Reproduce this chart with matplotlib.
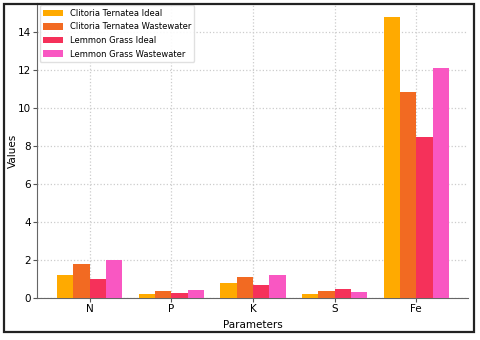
import numpy as np
import matplotlib.pyplot as plt
from matplotlib.patches import Rectangle

params = ["N", "P", "K", "S", "Fe"]
ct_ideal = [1.18, 0.18, 0.77, 0.21, 14.78]
ct_waste = [1.78, 0.34, 1.09, 0.34, 10.83]
lg_ideal = [0.98, 0.23, 0.70, 0.44, 8.46]
lg_waste = [1.98, 0.39, 1.21, 0.30, 12.10]
series_names = ["Clitoria Ternatea Ideal", "Clitoria Ternatea Wastewater",
                "Lemmon Grass Ideal", "Lemmon Grass Wastewater"]
colors = ["#FFAA00", "#F26A22", "#F5315A", "#F957C2"]

fig = plt.figure(figsize=(4.8, 3.4), dpi=100)
ax = fig.add_axes([0.078, 0.124, 0.898, 0.866])

x = np.arange(len(params))
w = 0.2
for i, (vals, name, c) in enumerate(zip([ct_ideal, ct_waste, lg_ideal, lg_waste], series_names, colors)):
    ax.bar(x + (i - 1.5) * w, vals, w, label=name, color=c, zorder=3)

ax.set_xticks(x)
ax.set_xticklabels(params)
ax.set_xlim(-0.64, 4.64)
ax.set_ylim(0, 15.5)
ax.set_yticks([0, 2, 4, 6, 8, 10, 12, 14])
ax.tick_params(labelsize=7.5, length=3, color="#555555", pad=1.5)
ax.set_xlabel("Parameters", fontsize=7.5)
ax.set_ylabel("Values", fontsize=7.5)
ax.yaxis.set_label_coords(-0.046, 0.5)
ax.xaxis.set_label_coords(0.5, -0.076)
ax.grid(True, linestyle=":", color="#cccccc", linewidth=0.9, zorder=0)
for s in ["top", "right"]:
    ax.spines[s].set_visible(False)
for s in ["left", "bottom"]:
    ax.spines[s].set_color("#666666")

ax.legend(loc="upper left", fontsize=6, frameon=True, framealpha=0.9,
          edgecolor="#dddddd", handlelength=2.4, handleheight=0.8,
          borderaxespad=0.25, labelspacing=0.55, bbox_to_anchor=(0.0, 1.0))

fig.patches.append(Rectangle((4 / 480, 8 / 340), 470 / 480, 328 / 340, transform=fig.transFigure,
                             fill=False, edgecolor="#222222", linewidth=1.6, zorder=10))

fig.savefig("out.png", dpi=100)
